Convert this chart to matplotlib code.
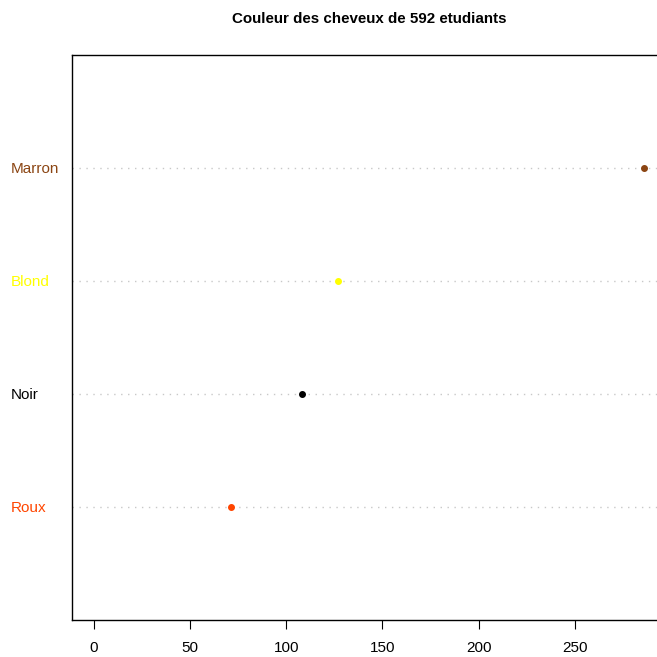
import matplotlib.pyplot as plt
import numpy as np

plt.rcParams['font.family'] = ['Liberation Sans', 'DejaVu Sans']

# hair colour counts (bottom to top, as in the dotchart)
labels = ['Roux', 'Noir', 'Blond', 'Marron']
counts = [71, 108, 127, 286]
colors = ['orangered', 'black', 'yellow', 'saddlebrown']
xticks = [0, 50, 100, 150, 200, 250]

fig = plt.figure(figsize=(6.57, 6.57), dpi=100)
W = H = 657.0
# plot region runs past the right edge of the picture, like the original
ax = fig.add_axes([72 / W, (H - 620) / H, (666 - 72) / W, (620 - 55) / H])

ypos = np.arange(1, len(labels) + 1)
for y, c, col in zip(ypos, counts, colors):
    ax.axhline(y, color='#c8c8c8', linestyle=(0, (1, 4)), linewidth=1, zorder=1)
    ax.plot(c, y, 'o', color=col, markersize=4, zorder=3)

ax.set_xlim(-11.44, 297.44)
ax.set_ylim(0, 5)
ax.set_xticks(xticks)
ax.set_xticklabels([str(t) for t in xticks], fontsize=11)
ax.tick_params(axis='x', length=6.5, width=0.8, pad=8.5, color='black')
ax.set_yticks([])
for s in ax.spines.values():
    s.set_linewidth(1)

for y, lab, col in zip(ypos, labels, colors):
    ax.text(11 / W, ax.transData.transform((0, y))[1] / fig.dpi / 6.57 - 1 / H, lab,
            transform=fig.transFigure, color=col, fontsize=11,
            ha='left', va='center')

fig.text(369 / W, 1 - 19 / H, 'Couleur des cheveux de 592 etudiants',
         ha='center', va='center', fontsize=10.9, fontweight='bold')

fig.savefig('out.png', dpi=100)
